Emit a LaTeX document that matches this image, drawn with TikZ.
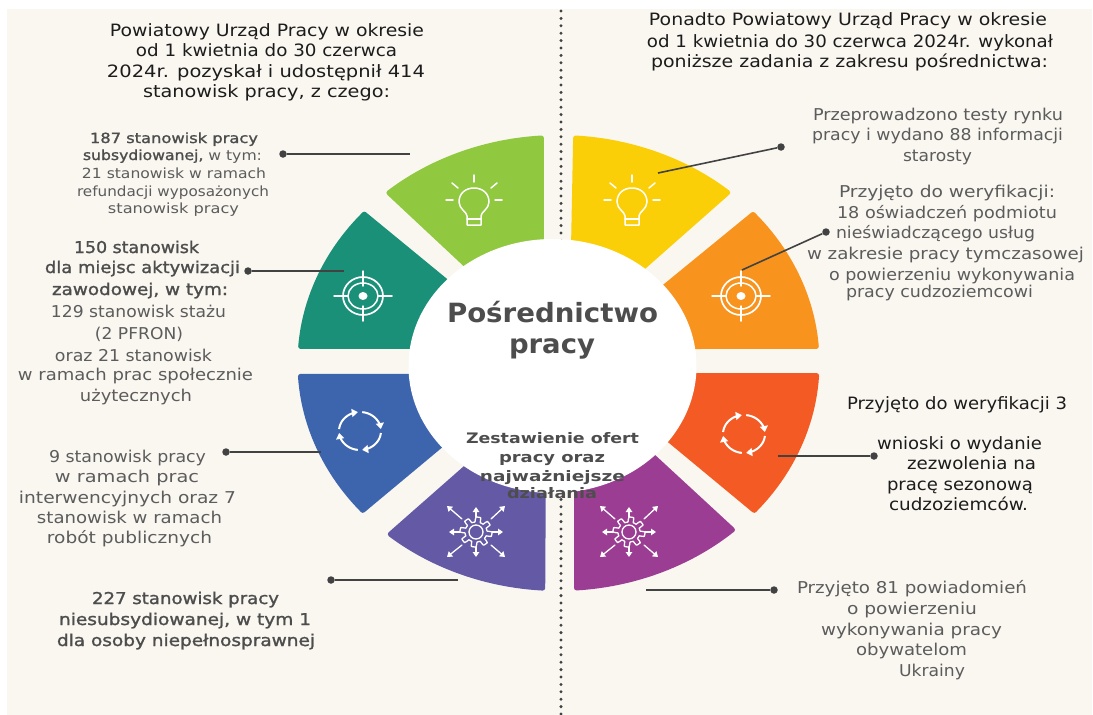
\documentclass[tikz,border=0pt]{standalone}
\usepackage{fontspec}
\usepackage{graphicx}
\setmainfont{DejaVu Sans}
\newfontfamily\semib[FakeBold=1.3]{DejaVu Sans}
\usetikzlibrary{arrows.meta}
\definecolor{bgc}{HTML}{FAF7F1}
\definecolor{cgreen}{HTML}{90C83F}
\definecolor{cteal}{HTML}{1A9079}
\definecolor{cblue}{HTML}{3D65AE}
\definecolor{cviolet}{HTML}{6459A4}
\definecolor{cyellow}{HTML}{FBCF07}
\definecolor{corange}{HTML}{F8931E}
\definecolor{cred}{HTML}{F35A24}
\definecolor{cplum}{HTML}{9C3D94}
\definecolor{leadc}{HTML}{424242}
\definecolor{tgray}{HTML}{5C5C5C}
\definecolor{tbold}{HTML}{4D4D4D}
\definecolor{tdark}{HTML}{1C1C1C}
\newcommand\tl[6]{\node[#1,anchor=base] (#2) at ({(#3+#4)/2},#5) {\resizebox{\dimexpr#4pt-#3pt\relax}{\height}{#6}};}
\tikzset{
  seg/.style={line width=5pt,line join=round},
  icon/.style={draw=white,line width=1.5pt,line cap=round,line join=round},
  lead/.style={draw=leadc,line width=1.6pt},
  dot/.style={circle,fill=leadc,inner sep=0pt,minimum size=7.5pt},
  base/.style={inner sep=0pt,outer sep=0pt},
  head/.style={base,text=tdark,font=\fontsize{17}{20}\selectfont},
  body/.style={base,text=tgray,font=\fontsize{16.3}{20}\selectfont},
  bodyb/.style={base,text=tbold,font=\fontsize{16.3}{20}\semib},
  small/.style={base,text=tgray,font=\fontsize{14}{18}\selectfont},
  smallb/.style={base,text=tbold,font=\fontsize{14}{18}\semib},
  darkt/.style={base,text=tdark,font=\fontsize{17}{20}\selectfont},
  title/.style={base,text=tbold,font=\fontsize{26.5}{30}\bfseries\selectfont},
  subt/.style={base,text=tbold,font=\fontsize{14.5}{18}\bfseries\selectfont},
  bulb/.pic={
    \draw[icon] (-7,13) .. controls (-7,9) and (-15,6) .. (-15,-1)
      .. controls (-15,-10) and (-8,-15) .. (0,-15)
      .. controls (8,-15) and (15,-10) .. (15,-1)
      .. controls (15,6) and (7,9) .. (7,13) -- (7,22) -- (-7,22) -- cycle;
    \draw[icon] (-7,16) -- (7,16);
    \draw[icon] (0,-28) -- (0,-21);
    \draw[icon] (-22,-20) -- (-16,-15);
    \draw[icon] (23,-20) -- (17,-15);
    \draw[icon] (-28,-3) -- (-21,-3);
    \draw[icon] (21,-3) -- (28,-3);
  },
  target/.pic={
    \draw[icon,line width=1.7pt] (0,0) ellipse (20pt and 19pt);
    \draw[icon] (0,0) ellipse (15pt and 13pt);
    \fill[white] (0,0) ellipse (4.5pt and 4pt);
    \draw[icon] (-29,0) -- (-15,0);
    \draw[icon] (15,0) -- (29,0);
    \draw[icon] (0,-25) -- (0,-10);
    \draw[icon] (0,10) -- (0,25);
  },
  cyclei/.pic={
    \foreach \a in {-174,-84,6,96}{
      \draw[icon,line width=2pt,line cap=butt,-{Triangle[length=6pt,width=8pt]}]
        plot[domain=\a:\a+78,samples=12] ({21*cos(\x)},{19*sin(\x)});
    }
  },
  geari/.pic={
    \draw[icon,line width=1.3pt] plot[domain=0:360,samples=145]
      ({(13.5+2.5*max(-1,min(1,3*sin(8*\x+22.5))))*cos(\x)},{(12.5+2.5*max(-1,min(1,3*sin(8*\x+22.5))))*sin(\x)}) -- cycle;
    \draw[icon,line width=1.3pt] (0,0) ellipse (7pt and 7pt);
    \foreach \p/\q in {0/-15,0/15,-16/0,16/0,-14/-13,15/-13,-14/13,15/13}{
      \pgfmathsetmacro\tx{\p==0?0:(\q==0?(\p>0?27:-27):(\p>0?29:-29))}
      \pgfmathsetmacro\ty{\q==0?0:(\p==0?(\q>0?25:-25):(\q>0?25:-26))}
      \draw[icon,line width=1.3pt,-{Triangle[length=5pt,width=6.5pt]}] (\p,\q) -- (\tx,\ty);
    }
  }
}
\begin{document}
\begin{tikzpicture}[x=1pt,y=-1pt]
\useasboundingbox (0,0) rectangle (1093,715);
\fill[bgc] (7,9) rectangle (1092,715);
% divider
\coordinate (dtop) at (561,11);
\coordinate (dbot) at (561,715);
\draw[leadc,line width=3.3pt,line cap=round,dash pattern=on 0pt off 7.4pt] (dtop) -- (dbot);
% wheel
\fill[cgreen,draw=cgreen,seg] plot[domain=229:266.2,samples=25] ({558.5+258.5*cos(\x)},{363+225.5*sin(\x)}) -- (541.5,300) -- (480,278) -- cycle;
\fill[cteal,draw=cteal,seg] plot[domain=184.2:221.3,samples=25] ({558.5+258.5*cos(\x)},{363+225.5*sin(\x)}) -- (470,301) -- (470,346.5) -- cycle;
\fill[cblue,draw=cblue,seg] plot[domain=139.2:176.6,samples=25] ({558.5+258.5*cos(\x)},{363+225.5*sin(\x)}) -- (470,376.5) -- (470,421) -- cycle;
\fill[cviolet,draw=cviolet,seg] plot[domain=93.5:130.6,samples=25] ({558.5+258.5*cos(\x)},{363+225.5*sin(\x)}) -- (490,446.5) -- (543.5,446.5) -- cycle;
\fill[cyellow,draw=cyellow,seg] plot[domain=273.8:310.9,samples=25] ({558.5+258.5*cos(\x)},{363+225.5*sin(\x)}) -- (620,287.7) -- (572.5,300) -- cycle;
\fill[corange,draw=corange,seg] plot[domain=-41.2:-4.2,samples=25] ({558.5+258.5*cos(\x)},{363+225.5*sin(\x)}) -- (640,346.5) -- (640,306.9) -- cycle;
\fill[cred,draw=cred,seg] plot[domain=3.2:40.8,samples=25] ({558.5+258.5*cos(\x)},{363+225.5*sin(\x)}) -- (640,415.7) -- (640,375.5) -- cycle;
\fill[cplum,draw=cplum,seg] plot[domain=47.7:86,samples=25] ({558.5+258.5*cos(\x)},{363+225.5*sin(\x)}) -- (576.5,435.2) -- (630,435.2) -- cycle;
\fill[white] (552.5,366) ellipse (144pt and 127pt);
% icons
\pic at (474,203) {bulb};
\pic at (632,203) {bulb};
\pic at (363,296) {target};
\pic at (741,296) {target};
\pic at (360,431) {cyclei};
\pic at (744,434) {cyclei};
\pic at (476,532) {geari};
\pic at (629,532) {geari};
% leaders
\node[dot] (d1) at (283,154) {}; \coordinate (e1) at (410,154); \draw[lead] (d1) -- (e1);
\node[dot] (d2) at (248,271) {}; \coordinate (e2) at (344,271); \draw[lead] (d2) -- (e2);
\node[dot] (d3) at (226,452) {}; \coordinate (e3) at (321,452); \draw[lead] (d3) -- (e3);
\node[dot] (d4) at (331,580) {}; \coordinate (e4) at (458,580); \draw[lead] (d4) -- (e4);
\node[dot] (d5) at (781,147) {}; \coordinate (e5) at (658,173); \draw[lead] (d5) -- (e5);
\node[dot] (d6) at (826,232) {}; \coordinate (e6) at (742,270); \draw[lead] (d6) -- (e6);
\node[dot] (d7) at (874,456) {}; \coordinate (e7) at (778,456); \draw[lead] (d7) -- (e7);
\node[dot] (d8) at (774,590) {}; \coordinate (e8) at (646,590); \draw[lead] (d8) -- (e8);
% headers
\tl{head}{ha}{110}{424}{36}{Powiatowy Urząd Pracy w okresie}
\tl{head}{hb}{136}{397}{56}{od 1 kwietnia do 30 czerwca}
\tl{head}{hc}{107}{425}{77}{2024r. pozyskał i udostępnił 414}
\tl{head}{hd}{143}{390}{97}{stanowisk pracy, z czego:}
\tl{head}{he}{649}{1047}{25}{Ponadto Powiatowy Urząd Pracy w okresie}
\tl{head}{hf}{647}{1053}{47}{od 1 kwietnia do 30 czerwca 2024r. wykonał}
\tl{head}{hg}{651}{1048}{67}{poniższe zadania z zakresu pośrednictwa:}
% left blocks
\tl{smallb}{la}{90}{258}{143}{187 stanowisk pracy}
\tl{small}{lb}{83}{262}{160}{{\semib\textcolor{tbold}{subsydiowanej,}} w tym:}
\tl{small}{lc}{82}{266}{178}{21 stanowisk w ramach}
\tl{small}{ld}{77}{269}{196}{refundacji wyposażonych}
\tl{small}{le}{108}{239}{213}{stanowisk pracy}
\tl{bodyb}{ma}{74}{199}{253}{150 stanowisk}
\tl{bodyb}{mb}{45}{240}{273}{dla miejsc aktywizacji}
\tl{bodyb}{mc}{52}{228}{295}{zawodowej, w tym:}
\tl{body}{md}{51}{226}{317}{129 stanowisk stażu}
\tl{body}{me}{95}{183}{339}{(2 PFRON)}
\tl{body}{mf}{55}{212}{361}{oraz 21 stanowisk}
\tl{body}{mg}{18}{253}{380}{w ramach prac społecznie}
\tl{body}{mh}{80}{192}{401}{użytecznych}
\tl{body}{na}{49}{206}{462}{9 stanowisk pracy}
\tl{body}{nb}{55}{199}{482}{w ramach prac}
\tl{body}{nc}{19}{236}{503}{interwencyjnych oraz 7}
\tl{body}{nd}{37}{222}{523}{stanowisk w ramach}
\tl{body}{ne}{47}{212}{543}{robót publicznych}
\tl{bodyb}{oa}{92}{279}{604}{227 stanowisk pracy}
\tl{bodyb}{ob}{59}{311}{625}{niesubsydiowanej, w tym 1}
\tl{bodyb}{oc}{57}{315}{646}{dla osoby niepełnosprawnej}
% right blocks
\tl{body}{pa}{813}{1063}{120}{Przeprowadzono testy rynku}
\tl{body}{pb}{812}{1063}{140}{pracy i wydano 88 informacji}
\tl{body}{pc}{903}{972}{161}{starosty}
\tl{body}{qa}{839}{1055}{197}{Przyjęto do weryfikacji:}
\tl{body}{qb}{837}{1057}{218}{18 oświadczeń podmiotu}
\tl{body}{qc}{836}{1035}{238}{nieświadczącego usług}
\tl{body}{qd}{807}{1084}{259}{w zakresie pracy tymczasowej}
\tl{body}{qe}{829}{1075}{280}{o powierzeniu wykonywania}
\tl{body}{qf}{846}{1033}{297}{pracy cudzoziemcowi}
\tl{darkt}{ra}{847}{1067}{409}{Przyjęto do weryfikacji 3}
\tl{darkt}{rb}{877}{1042}{449}{wnioski o wydanie}
\tl{darkt}{rc}{907}{1036}{469}{zezwolenia na}
\tl{darkt}{rd}{887}{1033}{490}{pracę sezonową}
\tl{darkt}{re}{889}{1028}{510}{cudzoziemców.}
\tl{body}{sa}{797}{1027}{593}{Przyjęto 81 powiadomień}
\tl{body}{sb}{847}{977}{614}{o powierzeniu}
\tl{body}{sc}{821}{1002}{635}{wykonywania pracy}
\tl{body}{sd}{856}{967}{655}{obywatelom}
\tl{body}{se}{899}{965}{676}{Ukrainy}
% centre
\tl{title}{ta}{447}{658}{322}{Pośrednictwo}
\tl{title}{tb}{509}{595}{353}{pracy}
\tl{subt}{ua}{466}{639}{443}{Zestawienie ofert}
\tl{subt}{ub}{499}{605}{462}{pracy oraz}
\tl{subt}{uc}{480}{625}{481}{najważniejsze}
\tl{subt}{ud}{507}{597}{498}{działania}
\end{tikzpicture}
\end{document}
